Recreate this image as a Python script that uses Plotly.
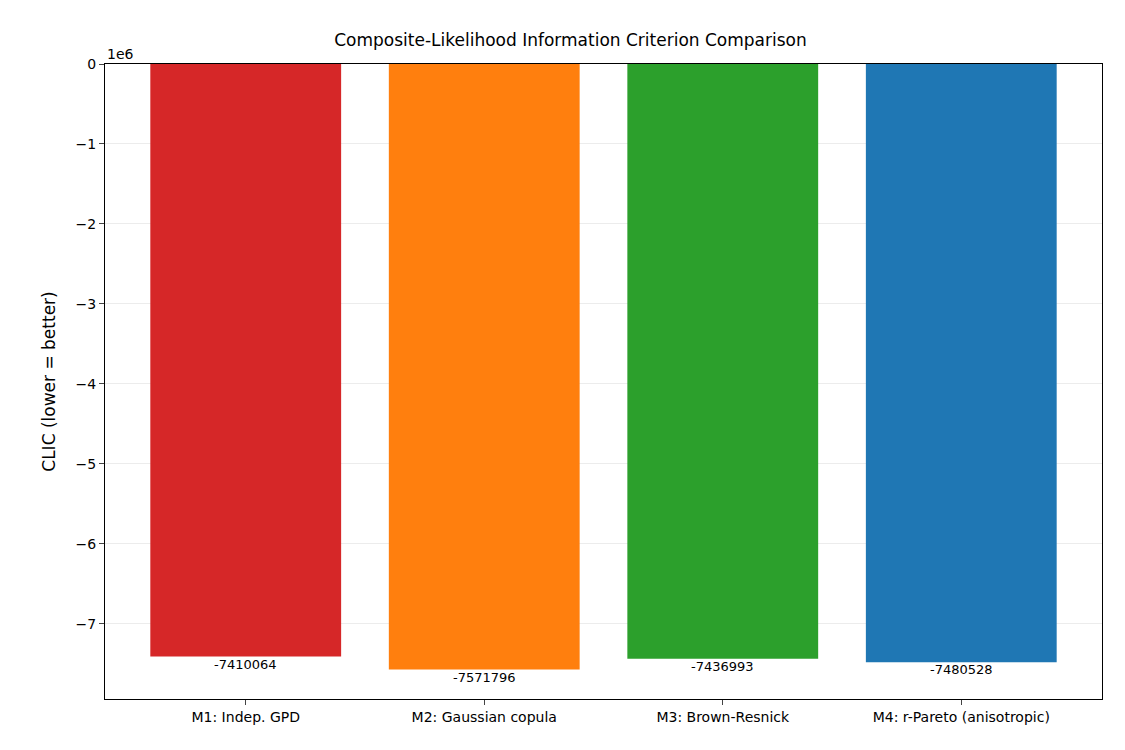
import plotly.graph_objects as go

models = ["M1: Indep. GPD", "M2: Gaussian copula", "M3: Brown-Resnick", "M4: r-Pareto (anisotropic)"]
clic = [-7410064, -7571796, -7436993, -7480528]
colors = ["#d62728", "#ff7f0e", "#2ca02c", "#1f77b4"]
tick_vals = [0, -1e6, -2e6, -3e6, -4e6, -5e6, -6e6, -7e6]
tick_text = ["0", "−1", "−2", "−3", "−4", "−5", "−6", "−7"]

fig = go.Figure(go.Bar(x=list(range(4)), y=clic, marker_color=colors, width=0.8, marker_line_width=0))
for i, v in enumerate(clic):
    fig.add_annotation(x=i, y=v, text=str(v), showarrow=False, yanchor="top", yshift=2,
                       font=dict(size=13, color="black"))
fig.add_annotation(x=0, y=1, xref="paper", yref="paper", text="1e6", showarrow=False,
                   xanchor="left", yanchor="bottom", font=dict(size=14, color="black"))
fig.update_layout(
    width=1125, height=750, paper_bgcolor="white", plot_bgcolor="white",
    margin=dict(l=97, r=31, t=56, b=59),
    font=dict(family="DejaVu Sans", size=14, color="black"),
    title=dict(text="Composite-Likelihood Information Criterion Comparison", x=0.5, y=0.965,
               xanchor="center", font=dict(size=17)),
    showlegend=False,
)
fig.update_xaxes(range=[-0.59, 3.59], tickvals=list(range(4)), ticktext=models, showgrid=False,
                 showline=True, linecolor="black", mirror=True, ticks="outside", ticklen=5, zeroline=False)
fig.update_yaxes(range=[-7.94e6, 0], tickvals=tick_vals, ticktext=tick_text, showgrid=True,
                 gridcolor="rgba(200,200,200,0.35)", showline=True, linecolor="black", mirror=True,
                 ticks="outside", ticklen=5, zeroline=False, title_text="CLIC (lower = better)")
fig.write_html("out.html")
